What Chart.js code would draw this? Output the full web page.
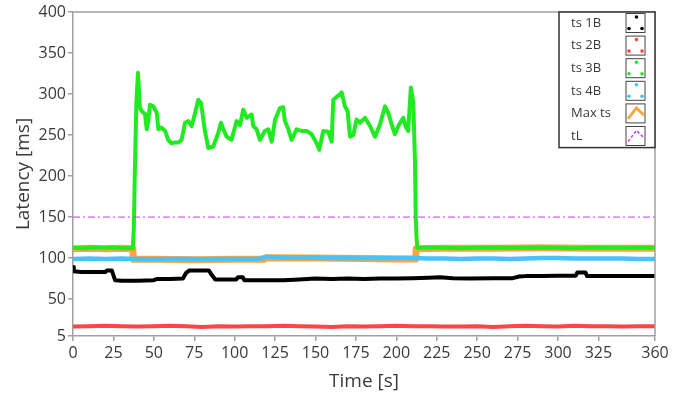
<!DOCTYPE html>
<html>
<head>
<meta charset="utf-8">
<title>Latency</title>
<script src="https://cdn.jsdelivr.net/npm/chart.js@4.4.1/dist/chart.umd.min.js"></script>
<style>
  body { margin: 0; background: #fff; }
</style>
</head>
<body>
<canvas id="myChart" width="686" height="396"></canvas>
<script>
// tick labels
var xTicks = [0, 25, 50, 75, 100, 125, 150, 175, 200, 225, 250, 275, 300, 325, 360];
var yTicks = [5, 50, 100, 150, 200, 250, 300, 350, 400];

// ts 1B (black)
var ts1Time = [0, 0.5, 5, 10, 15, 20, 21, 24, 26, 30, 40, 50, 52, 60, 68, 70, 72, 80, 84, 86, 88, 95, 101, 102, 105, 106, 120, 130, 140, 150, 160, 170, 180, 190, 200, 210, 220, 227, 235, 245, 260, 272, 276, 280, 290, 300, 311, 312, 317, 318, 330, 340, 350, 360];
var ts1Val  = [89, 84, 83, 83, 83, 83, 85, 85, 73, 72.5, 72.5, 73, 74.5, 74.5, 75, 82, 85, 85, 85, 79, 74, 74, 74, 76.5, 76.5, 73, 73, 73, 74, 75, 74.5, 75, 74.5, 75, 75, 75.5, 76, 76.5, 75.5, 75, 75.5, 75.5, 77.5, 78, 78, 78.5, 78.5, 82.5, 82.5, 78, 78, 78, 78, 78];

// ts 2B (red)
var ts2Time = [0, 10, 20, 30, 40, 50, 60, 70, 80, 90, 100, 110, 120, 130, 140, 150, 160, 170, 180, 190, 200, 210, 220, 230, 240, 250, 260, 270, 280, 290, 300, 310, 320, 330, 340, 350, 360];
var ts2Val  = [16.5, 17, 17.5, 17, 16.5, 17, 17.5, 17, 16, 17, 16.5, 17, 17, 17.5, 17, 16.5, 16, 17, 16.5, 17, 17.5, 17, 17, 16.5, 16.5, 17, 16, 17, 17.5, 17, 16.5, 17.5, 17, 17, 16.5, 17, 17];

// ts 3B (green)
var ts3Time = [0, 6, 12, 18, 24, 30, 36, 37, 37.6, 38.2, 39.2, 40.2, 41.4, 43, 44.5, 45.6, 46.6, 47.6, 49.7, 51.8, 52.8, 54.8, 57, 58.9, 61, 63, 65.1, 67.2, 69.3, 71.3, 73.4, 75.5, 77.5, 79.2, 81.6, 83.7, 86.8, 89.9, 91.5, 93, 95, 98, 101.2, 103.3, 105.3, 107.4, 110.5, 111.5, 113.6, 115.6, 118.7, 120.8, 122.9, 125, 128, 130, 131.1, 133.2, 135.2, 138.3, 141.4, 144.5, 147.6, 150.7, 152.3, 154.8, 157.9, 160, 161, 164.1, 166.2, 168.2, 169.9, 171.3, 173.4, 175.4, 177.5, 180.6, 183.7, 186.8, 189.9, 193, 195, 197.1, 199.1, 201.2, 204.3, 205.8, 207.3, 209, 210.5, 211.5, 212, 212.5, 213, 220, 230, 240, 250, 260, 270, 280, 290, 300, 310, 320, 330, 340, 350, 360];
var ts3Val  = [112.5, 112, 113, 112.5, 113, 112, 112.5, 112, 135, 200, 290, 326, 283, 278, 276, 257, 268, 287, 285, 277, 257, 259, 255, 244, 240, 241, 241, 244, 265, 267, 261, 277, 293, 289, 255, 234, 236, 253, 265, 257, 248, 244, 267, 262, 281, 271, 275, 261, 257, 244, 255, 257, 242, 269, 283, 284, 267, 257, 244, 257, 255, 255, 251, 240, 232, 255, 254, 242, 293, 298, 302, 285, 279, 248, 250, 269, 265, 271, 261, 248, 263, 285, 277, 263, 251, 261, 271, 260, 255, 308, 289, 220, 150, 125, 112.5, 113, 112.5, 112, 112.5, 113, 112.5, 112.5, 113, 112.5, 112, 113, 112.5, 112.5, 113, 112.5];

// ts 4B (blue)
var ts4Time = [0, 10, 20, 30, 40, 50, 60, 70, 80, 90, 100, 110, 115, 119, 125, 130, 140, 150, 160, 170, 180, 190, 200, 210, 220, 230, 240, 250, 260, 270, 280, 290, 300, 310, 320, 330, 340, 350, 360];
var ts4Val  = [99, 99.5, 99, 99.5, 99, 98.5, 99, 99, 98.5, 99, 99, 99, 99, 101.5, 101, 100.5, 101, 100.5, 100, 100.5, 100, 100, 100, 100, 99.5, 99.5, 99, 99.5, 99.5, 99, 99.5, 100, 100, 99.5, 99.5, 99.5, 99.5, 99, 99];

// Max ts (orange)
var maxTime = [0, 10, 20, 30, 37, 37.3, 50, 75, 100, 118, 120, 150, 180, 200, 212, 212.3, 230, 260, 290, 320, 360];
var maxVal  = [111.5, 112, 111.5, 112, 111.5, 98.5, 98.5, 98, 98.5, 98.5, 100.5, 100, 99.5, 99, 99, 111.5, 112, 112, 112.5, 112, 112];

// tL (limit)
var tlTime = [0, 360];
var tlVal  = [150, 150];

function pts(t, v) {
    return t.map(function (x, i) { return { x: x, y: v[i] }; });
}

var textColor = '#3a3a3a';
var axisColor = '#a0a0a0';
var fontFamily = "'Open Sans', 'Noto Sans', sans-serif";

// draws the top/right frame and the boxed legend
var frameLegend = {
    id: 'frameLegend',
    afterDraw: function (chart) {
        var ctx = chart.ctx;
        var a = chart.chartArea;
        ctx.save();
        ctx.strokeStyle = axisColor;
        ctx.lineWidth = 1.5;
        ctx.beginPath();
        ctx.moveTo(a.left, a.top);
        ctx.lineTo(a.right, a.top);
        ctx.lineTo(a.right, a.bottom);
        ctx.stroke();

        var boxW = 96, rowH = 22.6;
        var items = chart.data.datasets.slice().sort(function (p, q) { return p.legendIndex - q.legendIndex; });
        var boxX = a.right - boxW, boxY = a.top;
        var boxH = rowH * items.length + 0;
        ctx.fillStyle = '#fff';
        ctx.fillRect(boxX, boxY, boxW, boxH);
        ctx.strokeStyle = '#333';
        ctx.lineWidth = 1.5;
        ctx.strokeRect(boxX, boxY, boxW, boxH);

        ctx.font = '13px ' + fontFamily;
        ctx.textBaseline = 'middle';
        items.forEach(function (ds, i) {
            var cy = boxY + 11 + i * rowH;
            ctx.fillStyle = textColor;
            ctx.fillText(ds.label, boxX + 12, cy);
            var ix = boxX + 67, iy = cy - 9.5, s = 19;
            ctx.strokeStyle = '#444';
            ctx.lineWidth = 1;
            ctx.setLineDash([]);
            ctx.strokeRect(ix, iy, s, s);
            if (ds.legendKind === 'dots') {
                ctx.fillStyle = ds.borderColor;
                [[s * 0.55, 3.5], [3, s - 4], [s - 3, s - 4]].forEach(function (d) {
                    ctx.beginPath();
                    ctx.arc(ix + d[0], iy + d[1], 1.8, 0, Math.PI * 2);
                    ctx.fill();
                });
            } else {
                ctx.strokeStyle = ds.borderColor;
                ctx.lineWidth = ds.legendKind === 'line' ? 3 : 1.5;
                ctx.setLineDash(ds.legendKind === 'line' ? [] : [3, 2]);
                ctx.beginPath();
                ctx.moveTo(ix + 2, iy + s - 4);
                ctx.lineTo(ix + s * 0.55, iy + 4);
                ctx.lineTo(ix + s - 1, iy + s * 0.6);
                ctx.stroke();
                ctx.setLineDash([]);
            }
        });
        ctx.restore();
    }
};

var ctx = document.getElementById('myChart').getContext('2d');
var chart = new Chart(ctx, {
    type: 'line',
    data: {
        datasets: [
            { label: 'ts 1B', data: pts(ts1Time, ts1Val), borderColor: '#000000', borderWidth: 4, order: 2, legendIndex: 0, legendKind: 'dots' },
            { label: 'ts 2B', data: pts(ts2Time, ts2Val), borderColor: '#ff4646', borderWidth: 4, order: 2, legendIndex: 1, legendKind: 'dots' },
            { label: 'ts 3B', data: pts(ts3Time, ts3Val), borderColor: '#22ea22', borderWidth: 4, order: 1, legendIndex: 2, legendKind: 'dots' },
            { label: 'ts 4B', data: pts(ts4Time, ts4Val), borderColor: '#48c2f8', borderWidth: 4.5, order: 2, legendIndex: 3, legendKind: 'dots' },
            { label: 'Max ts', data: pts(maxTime, maxVal), borderColor: '#f8a640', borderWidth: 7, order: 5, legendIndex: 4, legendKind: 'line' },
            { label: 'tL', data: pts(tlTime, tlVal), borderColor: '#c43cf2', borderWidth: 1, borderDash: [7, 3, 2, 3], order: 0, legendIndex: 5, legendKind: 'dash' }
        ]
    },
    options: {
        responsive: false,
        animation: false,
        parsing: true,
        elements: {
            point: { radius: 0 },
            line: { tension: 0, borderCapStyle: 'butt', borderJoinStyle: 'round' }
        },
        layout: { padding: { top: 12, right: 31, left: 0, bottom: 0 } },
        plugins: {
            legend: { display: false },
            tooltip: { enabled: false }
        },
        scales: {
            x: {
                type: 'linear',
                min: 0,
                max: 360,
                afterBuildTicks: function (scale) {
                    scale.ticks = xTicks.map(function (v) { return { value: v }; });
                },
                afterFit: function (scale) { scale.height = 60; },
                grid: { display: true, drawOnChartArea: false, drawTicks: true, tickLength: 5, color: axisColor, lineWidth: 1.5 },
                border: { display: true, color: axisColor, width: 1.5 },
                ticks: { color: textColor, font: { family: fontFamily, size: 16 }, padding: 3, maxRotation: 0, autoSkip: false },
                title: { display: true, text: 'Time [s]', color: textColor, font: { family: fontFamily, size: 19 }, padding: { top: 0, bottom: 3 } }
            },
            y: {
                type: 'linear',
                min: 5,
                max: 400,
                afterBuildTicks: function (scale) {
                    scale.ticks = yTicks.map(function (v) { return { value: v }; });
                },
                afterFit: function (scale) { scale.width = 73; },
                grid: { display: true, drawOnChartArea: false, drawTicks: true, tickLength: 5, color: axisColor, lineWidth: 1.5 },
                border: { display: true, color: axisColor, width: 1.5 },
                ticks: { color: textColor, font: { family: fontFamily, size: 16 }, padding: 2, autoSkip: false },
                title: { display: true, text: 'Latency [ms]', color: textColor, font: { family: fontFamily, size: 19 }, padding: { top: 12, bottom: 0 } }
            }
        }
    },
    plugins: [frameLegend]
});
</script>
</body>
</html>
